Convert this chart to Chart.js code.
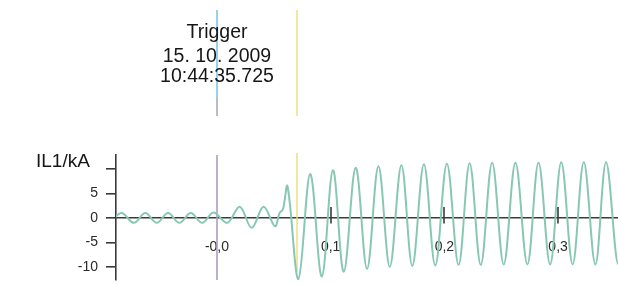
<!DOCTYPE html>
<html>
<head>
<meta charset="utf-8">
<script src="https://cdn.jsdelivr.net/npm/chart.js@4.4.0/dist/chart.umd.min.js"></script>
<style>
html,body{margin:0;padding:0;background:#fff;}
#wrap{width:618px;height:284px;position:relative;}
</style>
</head>
<body>
<div id="wrap"><canvas id="c" width="618" height="284"></canvas></div>
<script>
// Extrema of the IL1 waveform (time in s, current in kA)
const timeSec = [
  -0.094, -0.084, -0.073, -0.063, -0.053, -0.043, -0.033, -0.023, -0.013, -0.003,
  0.009, 0.020, 0.0305, 0.041, 0.051, 0.055, 0.058, 0.062, 0.0716,
  0.082, 0.0922, 0.102, 0.1115, 0.122, 0.132, 0.142, 0.152, 0.1622, 0.1718,
  0.182, 0.192, 0.2022, 0.2125, 0.2222, 0.232, 0.242, 0.2522, 0.2625, 0.273,
  0.2828, 0.293, 0.3028, 0.3128, 0.3226, 0.3328, 0.3422, 0.353, 0.362
];
const currentKA = [
  -0.9, 1.0, -1.0, 1.0, -1.0, 1.0, -1.0, 1.0, -1.0, 1.1,
  -1.0, 2.3, -2.0, 2.3, -1.7, 1.0, 1.8, 6.5, -12.5,
  9.0, -12.0, 9.8, -11.0, 10.3, -10.4, 10.6, -10.0, 10.8, -9.8,
  11.0, -9.7, 11.1, -9.6, 11.2, -9.6, 11.3, -9.5, 11.3, -9.5,
  11.3, -9.5, 11.4, -9.5, 11.4, -9.5, 11.4, -9.5, 11.4
];
const xTickValues = [0, 0.1, 0.2, 0.3];
const xTickLabels = ['-0,0', '0,1', '0,2', '0,3'];
const yTickValues = [-10, -5, 0, 5, 10];
const yTickLabels = ['-10', '-5', '0', '5', ''];
const triggerTime = 0;
const faultTime = 0.0705;
const triggerText = ['Trigger', '15. 10. 2009', '10:44:35.725'];
const yAxisTitle = 'IL1/kA';

const FONT = "'Liberation Sans', Arial, sans-serif";
const points = timeSec.map((t, i) => ({x: t, y: currentKA[i]}));

function vline(ctx, x, y1, y2, color, w) {
  ctx.beginPath();
  ctx.strokeStyle = color;
  ctx.lineWidth = w;
  ctx.moveTo(x, y1);
  ctx.lineTo(x, y2);
  ctx.stroke();
}

const overlay = {
  id: 'overlay',
  beforeDatasetsDraw(chart) {
    const {ctx, chartArea: a, scales: {x}} = chart;
    const xt = Math.round(x.getPixelForValue(triggerTime));
    const xf = Math.round(x.getPixelForValue(faultTime));
    ctx.save();
    vline(ctx, xt, a.top, a.bottom, '#aa9ec0', 1.6);
    vline(ctx, xt, 10, 97, '#7ec6ea', 1.6);
    vline(ctx, xt, 97, 116, '#b0a8c0', 1.6);
    vline(ctx, xf, 10, 116, '#ecdc80', 1.4);
    vline(ctx, xf, a.top - 2, a.bottom - 8, '#ecdc80', 1.4);
    ctx.restore();
  },
  afterDatasetsDraw(chart) {
    const {ctx, scales: {x, y}} = chart;
    const y0 = y.getPixelForValue(0);
    ctx.save();
    xTickValues.forEach(v => {
      if (v === triggerTime) return;
      const px = Math.round(x.getPixelForValue(v));
      vline(ctx, px, y0 - 11, y0 + 5.5, '#3a3a3a', 1.6);
    });
    ctx.restore();
  },
  afterDraw(chart) {
    const {ctx, scales: {x}} = chart;
    const xt = x.getPixelForValue(triggerTime);
    ctx.save();
    ctx.fillStyle = '#161616';
    ctx.font = '19.5px ' + FONT;
    ctx.textAlign = 'center';
    ctx.textBaseline = 'alphabetic';
    const baselines = [38, 61.5, 81.5];
    triggerText.forEach((s, i) => ctx.fillText(s, xt, baselines[i]));
    ctx.font = '19px ' + FONT;
    ctx.textAlign = 'left';
    ctx.fillText(yAxisTitle, 36, 167);
    ctx.restore();
  }
};

new Chart(document.getElementById('c'), {
  type: 'line',
  data: {
    datasets: [{
      data: points,
      borderColor: '#88c8b2',
      borderWidth: 2,
      pointRadius: 0,
      tension: 0.36,
      fill: false
    }]
  },
  plugins: [overlay],
  options: {
    responsive: false,
    devicePixelRatio: 1,
    animation: false,
    layout: {padding: {top: 155, right: 0, bottom: 4, left: 0}},
    plugins: {legend: {display: false}, tooltip: {enabled: false}, title: {display: false}},
    scales: {
      x: {
        type: 'linear',
        min: -0.0888,
        max: 0.3527,
        position: {y: 0},
        border: {display: true, color: '#3a3a3a', width: 1.6},
        grid: {display: false, drawTicks: false},
        ticks: {
          autoSkip: false,
          maxRotation: 0,
          padding: 21,
          color: '#2a2a2a',
          font: {family: FONT, size: 14},
          callback: (v) => {
            const i = xTickValues.findIndex(t => Math.abs(t - v) < 1e-9);
            return i >= 0 ? xTickLabels[i] : '';
          }
        },
        afterBuildTicks: (s) => { s.ticks = xTickValues.map(v => ({value: v})); },
        afterFit: (s) => { s.paddingLeft = 0; s.paddingRight = 0; }
      },
      y: {
        type: 'linear',
        min: -12.7,
        max: 12.9,
        position: 'left',
        border: {display: true, color: '#3a3a3a', width: 1.6},
        grid: {drawOnChartArea: false, drawTicks: true, tickLength: 10, color: '#3a3a3a', lineWidth: 1.6},
        ticks: {
          padding: 8,
          color: '#2a2a2a',
          font: {family: FONT, size: 14},
          callback: (v) => {
            const i = yTickValues.indexOf(v);
            return i >= 0 ? yTickLabels[i] : '';
          }
        },
        afterBuildTicks: (s) => { s.ticks = yTickValues.map(v => ({value: v})); },
        afterFit: (s) => { s.width = 116; s.paddingTop = 0; s.paddingBottom = 0; }
      }
    }
  }
});
</script>
</body>
</html>
